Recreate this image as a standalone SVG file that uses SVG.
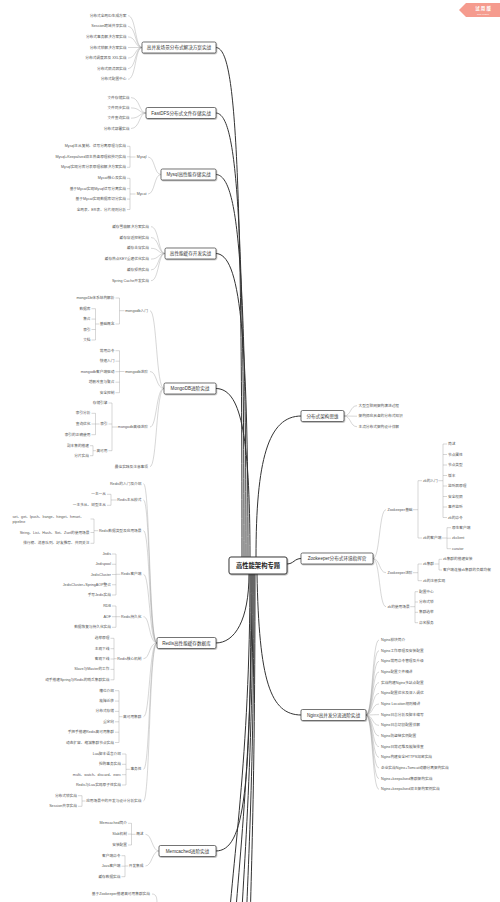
<svg xmlns="http://www.w3.org/2000/svg" width="500" height="902" viewBox="0 0 500 902">
<defs>
<filter id="sh" x="-10%" y="-30%" width="130%" height="180%"><feDropShadow dx="0.6" dy="0.8" stdDeviation="0.5" flood-color="#000" flood-opacity="0.35"/></filter>
<style>
text{font-family:"Liberation Sans","Noto Sans CJK SC",sans-serif;dominant-baseline:central}
.l{font-size:3.7px;fill:#555;text-anchor:end}
.r{font-size:3.7px;fill:#555;text-anchor:start}
.nt{font-size:4.6px;fill:#333;text-anchor:middle}
.box{fill:#fff;stroke:#3a3a3a;stroke-width:0.7;filter:url(#sh)}
.m{fill:none;stroke:#333;stroke-width:1;stroke-linecap:round}
.s{fill:none;stroke:#9a9a9a;stroke-width:0.4}
</style>
</defs>
<rect width="500" height="902" fill="#fff"/>
<g id="connectors">
<path class="m" d="M242,557C242,130 234,47.5 216,47.5M244,557C244,200 236,113 216,113M246,557C246,260 238,174.5 216,174.5M248,557C248,330 240,253.5 216,253.5M250,557C250,430 240,388.5 216,388.5M256,557C256,460 268,416 301,416M287,564C294,564 294,558.5 301,558.5M249,574C249,620 235,643 216,643M251,574C251,790 245,851 216,851M257,574C259,680 270,715 301,715M250,574C250,760 232,860 226,960M252,574C252,780 236,880 231,980M253,574C253,800 240,900 238,1000M254,574C254,820 245,900 244,1000M255,574C255,840 249,900 249,1000"/>
<path class="s" d="M142,47.5C135,47.5 136,15.7 128,15.7M142,47.5C135,47.5 136,26.3 128,26.3M142,47.5C135,47.5 136,36.9 128,36.9M142,47.5H128M142,47.5C135,47.5 136,58.1 128,58.1M142,47.5C135,47.5 136,68.7 128,68.7M142,47.5C135,47.5 136,79.3 128,79.3"/>
<path class="s" d="M146,113C139,113 140,97.6 131,97.6M146,113C139,113 140,107.9 131,107.9M146,113C139,113 140,118.2 131,118.2M146,113C139,113 140,128.5 131,128.5"/>
<path class="s" d="M161,174.5C154,174.5 155,157 148,157M161,174.5C154,174.5 155,194 148,194M135.5,157H130M130,146.3V167.3M130,146.3H127M130,156.8H127M130,167.3H127M135.5,194H130M130,178.3V209.5M130,178.3H127M130,188.7H127M130,199.1H127M130,209.5H127"/>
<path class="s" d="M165,253.5C158,253.5 159,226.7 151,226.7M165,253.5C158,253.5 159,237.5 151,237.5M165,253.5C158,253.5 159,248.3 151,248.3M165,253.5C158,253.5 159,259.1 151,259.1M165,253.5C158,253.5 159,269.9 151,269.9M165,253.5C158,253.5 159,280.7 151,280.7"/>
<path class="s" d="M164,388.5C156,388.5 157,310.7 150,310.7M164,388.5C156,388.5 157,371.5 150,371.5M164,388.5C156,388.5 157,427 150,427M164,388.5C156,388.5 157,466.7 150,466.7M124.5,310.7H119.5M119.5,298V324M119.5,298H115.5M119.5,324H115.5M99.2,324H95.5M95.5,308.7V340M95.5,308.7H91.5M95.5,319.1H91.5M95.5,329.5H91.5M95.5,340H91.5M124.5,371.5H119.5M119.5,350.7V392.7M119.5,350.7H115.5M119.5,361.2H115.5M119.5,371.7H115.5M119.5,382.2H115.5M119.5,392.7H115.5M117.3,427H112M112,403V450.7M112,403H108.5M112,424H108.5M112,450.7H108.5M99.6,424H95.5M95.5,413.3V434.7M95.5,413.3H91.5M95.5,424H91.5M95.5,434.7H91.5M95.9,450.7H93M93,445.7V455.7M93,445.7H90M93,455.7H90"/>
<path class="s" d="M157,643C149,643 150,483.7 143.5,483.7M157,643C149,643 150,500 143.5,500M157,643C149,643 150,530.7 143.5,530.7M157,643C149,643 150,574.3 143.5,574.3M157,643C149,643 150,616.7 143.5,616.7M157,643C149,643 150,658.7 143.5,658.7M157,643C149,643 150,716.7 143.5,716.7M157,643C149,643 150,769.3 143.5,769.3M157,643C149,643 150,801 143.5,801M116.7,500H111M111,494.3V505.3M111,494.3H107M111,505.3H107M98.2,530.7H94M94,519V543.3M94,519H90.5M94,532.5H90.5M94,543.3H90.5M120.4,574.3H116M116,554V595M116,554H112M116,564.25H112M116,574.5H112M116,584.75H112M116,595H112M120.4,616.7H116M116,606V627.3M116,606H112M116,616.7H112M116,627.3H112M116.7,658.7H114M114,638.3V679.8M114,638.3H110.5M114,648.7H110.5M114,659H110.5M114,669.4H110.5M114,679.8H110.5M122.5,716.7H119M119,690.7V742.5M119,690.7H115M119,701.1H115M119,711.4H115M119,721.8H115M119,732.2H115M119,742.5H115M129.9,769.3H126M126,754V785M126,754H122M126,764.3H122M126,774.7H122M126,785H122M85.5,801H82M82,795.7V806.3M82,795.7H78M82,806.3H78"/>
<path class="s" d="M159,851C152,851 152,834.3 145.5,834.3M159,851C152,851 152,866 145.5,866M135.6,834.3H131.5M131.5,823.3V845M131.5,823.3H128M131.5,834.1H128M131.5,845H128M128.2,866H125M125,855.7V876.7M125,855.7H121.5M125,866.2H121.5M125,876.7H121.5M152,894C157,894 157,899 157,905"/>
<path class="s" d="M344,416C351,416 350,405.7 357,405.7M344,416C351,416 350,416.2 357,416.2M344,416C351,416 350,426.7 357,426.7"/>
<path class="s" d="M373,558.5C380,558.5 379,509.7 386,509.7M373,558.5C380,558.5 379,572.7 386,572.7M373,558.5C380,558.5 379,606.7 386,606.7M413,509.7H418M418,480.7V538M418,480.7H422M418,538H422M438.3,480.7H443M443,444V517.5M443,444H447M443,454.5H447M443,465H447M443,475.5H447M443,486H447M443,496.5H447M443,507H447M443,517.5H447M442,538H447M447,527.7V548.7M447,527.7H451M447,538.2H451M447,548.7H451M413,572.7H418M418,564V580.7M418,564H422M418,580.7H422M434.6,564H439M439,559.3V570M439,559.3H442M439,570H442M410.2,606.7H415M415,591.7V622.7M415,591.7H418M415,602H418M415,612.3H418M415,622.7H418"/>
<path class="s" d="M366,715C373,715 372,640 379,640M366,715C373,715 372,650.67 379,650.67M366,715C373,715 372,661.33 379,661.33M366,715C373,715 372,672 379,672M366,715C373,715 372,682.67 379,682.67M366,715C373,715 372,693.33 379,693.33M366,715C373,715 372,704 379,704M366,715C373,715 372,714.67 379,714.67M366,715C373,715 372,725.33 379,725.33M366,715C373,715 372,736 379,736M366,715C373,715 372,746.67 379,746.67M366,715C373,715 372,757.33 379,757.33M366,715C373,715 372,768 379,768M366,715C373,715 372,778.67 379,778.67M366,715C373,715 372,789.33 379,789.33"/>
</g>
<g id="root">
<rect x="229" y="557" width="58" height="17" rx="2" fill="#fff" stroke="#3a3a3a" stroke-width="1" filter="url(#sh)"/>
<text x="258" y="565.5" style="font-size:6.3px;font-weight:bold;fill:#222;text-anchor:middle">高性能架构专题</text>
</g>
<g id="n-dist">
<rect class="box" x="142" y="42" width="74" height="11" rx="1.5"/>
<text class="nt" x="179" y="47.5">高并发场景分布式解决方案实战</text>
<text class="l" x="126.5" y="15.7">分布式全局ID生成方案</text>
<text class="l" x="126.5" y="26.3">Session跨域共享实战</text>
<text class="l" x="126.5" y="36.9">分布式事务解决方案实战</text>
<text class="l" x="126.5" y="47.5">分布式锁解决方案实战</text>
<text class="l" x="126.5" y="58.1">分布式调度器及 XXL实战</text>
<text class="l" x="126.5" y="68.7">分布式限流器实战</text>
<text class="l" x="126.5" y="79.3">分布式配置中心</text>
</g>
<g id="n-fastdfs">
<rect class="box" x="146" y="107.5" width="70" height="11" rx="1.5"/>
<text class="nt" x="181" y="113">FastDFS分布式文件存储实战</text>
<text class="l" x="129.5" y="97.6">文件存储实战</text>
<text class="l" x="129.5" y="107.9">文件同步实战</text>
<text class="l" x="129.5" y="118.2">文件查询实战</text>
<text class="l" x="129.5" y="128.5">分布式部署实战</text>
</g>
<g id="n-mysql">
<rect class="box" x="161" y="169" width="55" height="11" rx="1.5"/>
<text class="nt" x="188.5" y="174.5">Mysql高性能存储实战</text>
<text class="l" x="146.5" y="157">Mysql</text>
<text class="l" x="146.5" y="194">Mycat</text>
<text class="l" x="126" y="146.3">Mysql主从复制、读写分离原理与实战</text>
<text class="l" x="126" y="156.8">Mysql+Keepalived双主热备原理和技巧实战</text>
<text class="l" x="126" y="167.3">Mysql实现分库分表原理和解决方案实战</text>
<text class="l" x="126" y="178.3">Mycat核心及实战</text>
<text class="l" x="126" y="188.7">基于Mycat实现Mysql读写分离实战</text>
<text class="l" x="126" y="199.1">基于Mycat实现数据库切分实战</text>
<text class="l" x="126" y="209.5">全局表、ER表、分片规则分析</text>
</g>
<g id="n-cache">
<rect class="box" x="165" y="248" width="51" height="11" rx="1.5"/>
<text class="nt" x="190.5" y="253.5">高性能缓存开发实战</text>
<text class="l" x="149" y="226.7">缓存雪崩解决方案实战</text>
<text class="l" x="149" y="237.5">缓存穿透控制实战</text>
<text class="l" x="149" y="248.3">缓存击穿实战</text>
<text class="l" x="149" y="259.1">缓存热点KEY重建优化实战</text>
<text class="l" x="149" y="269.9">缓存预热实战</text>
<text class="l" x="149" y="280.7">Spring Cache开发实战</text>
</g>
<g id="n-mongo">
<rect class="box" x="164" y="383" width="52" height="11" rx="1.5"/>
<text class="nt" x="190" y="388.5">MongoDB进阶实战</text>
<text class="l" x="148" y="310.7">mongodb入门</text>
<text class="l" x="148" y="371.5">mongodb进阶</text>
<text class="l" x="148" y="427">mongodb高级进阶</text>
<text class="l" x="148" y="466.7">最佳实践及注意事项</text>
<text class="l" x="114.5" y="298">mongoDb体系结构解析</text>
<text class="l" x="114.5" y="324">基础概念</text>
<text class="l" x="90.5" y="308.7">数据库</text>
<text class="l" x="90.5" y="319.1">集合</text>
<text class="l" x="90.5" y="329.5">索引</text>
<text class="l" x="90.5" y="340">文档</text>
<text class="l" x="114.5" y="350.7">常用命令</text>
<text class="l" x="114.5" y="361.2">快速入门</text>
<text class="l" x="114.5" y="371.7">mongodb客户端驱动</text>
<text class="l" x="114.5" y="382.2">增删改查与聚合</text>
<text class="l" x="114.5" y="392.7">安全控制</text>
<text class="l" x="107.5" y="403">存储引擎</text>
<text class="l" x="107.5" y="424">索引</text>
<text class="l" x="107.5" y="450.7">高可用</text>
<text class="l" x="90.5" y="413.3">索引分析</text>
<text class="l" x="90.5" y="424">查询优化</text>
<text class="l" x="90.5" y="434.7">索引的正确使用</text>
<text class="l" x="89" y="445.7">副本集的搭建</text>
<text class="l" x="89" y="455.7">分片实战</text>
</g>
<g id="n-redis">
<rect class="box" x="157" y="637.5" width="59" height="11" rx="1.5"/>
<text class="nt" x="186.5" y="643">Redis高性能缓存数据库</text>
<text class="l" x="141.5" y="483.7">Redis的入门及介绍</text>
<text class="l" x="141.5" y="500">Redis主从模式</text>
<text class="l" x="141.5" y="530.7">Redis数据类型及应用场景</text>
<text class="l" x="141.5" y="574.3">Redis客户端</text>
<text class="l" x="141.5" y="616.7">Redis持久化</text>
<text class="l" x="141.5" y="658.7">Redis核心机制</text>
<text class="l" x="141.5" y="716.7">高可用集群</text>
<text class="l" x="141.5" y="769.3">事务性</text>
<text class="l" x="141.5" y="801">应用场景中的开发与设计分析实战</text>
<text class="l" x="106" y="494.3">一主一从</text>
<text class="l" x="106" y="505.3">一主多从、树型主从</text>
<text class="r" x="12.5" y="516.8">set、get、lpush、lrange、hinget、hmset、</text>
<text class="r" x="12.5" y="521.6">pipeline</text>
<text class="l" x="89.5" y="532.5">String、List、Hash、Set、Zset的使用场景</text>
<text class="l" x="89.5" y="543.3">排行榜、消息队列、好友推荐、共同关注</text>
<text class="l" x="111" y="554">Jedis</text>
<text class="l" x="111" y="564.25">Jedispool</text>
<text class="l" x="111" y="574.5">JedisCluster</text>
<text class="l" x="111" y="584.75">JedisCluster+SpringAOP整合</text>
<text class="l" x="111" y="595">手写Jedis实战</text>
<text class="l" x="111" y="606">RDB</text>
<text class="l" x="111" y="616.7">AOF</text>
<text class="l" x="111" y="627.3">数据恢复与持久化实战</text>
<text class="l" x="109.5" y="638.3">选举原理</text>
<text class="l" x="109.5" y="648.7">主观下线</text>
<text class="l" x="109.5" y="659">客观下线</text>
<text class="l" x="109.5" y="669.4">Slave与Master的工作</text>
<text class="l" x="109.5" y="679.8">动手搭建Spring与Redis的哨兵集群实战</text>
<text class="l" x="114" y="690.7">槽位介绍</text>
<text class="l" x="114" y="701.1">故障迁移</text>
<text class="l" x="114" y="711.4">分布式存储</text>
<text class="l" x="114" y="721.8">重定向</text>
<text class="l" x="114" y="732.2">手把手搭建Redis高可用集群</text>
<text class="l" x="114" y="742.5">动态扩容、缩减集群节点实战</text>
<text class="l" x="121" y="754">Lua脚本语言介绍</text>
<text class="l" x="121" y="764.3">抢购事务实战</text>
<text class="l" x="121" y="774.7">multi、watch、discard、exec</text>
<text class="l" x="121" y="785">Redis与Lua实现原子性实战</text>
<text class="l" x="77" y="795.7">分布式锁实战</text>
<text class="l" x="77" y="806.3">Session共享实战</text>
</g>
<g id="n-memcached">
<rect class="box" x="159" y="845.5" width="57" height="11" rx="1.5"/>
<text class="nt" x="187.5" y="851">Memcached进阶实战</text>
<text class="l" x="143.5" y="834.3">概述</text>
<text class="l" x="143.5" y="866">开发集成</text>
<text class="l" x="127" y="823.3">Memcached简介</text>
<text class="l" x="127" y="834.1">Slab机制</text>
<text class="l" x="127" y="845">安装配置</text>
<text class="l" x="120.5" y="855.7">客户端命令</text>
<text class="l" x="120.5" y="866.2">Java客户端</text>
<text class="l" x="120.5" y="876.7">缓存数据实战</text>
</g>
<g id="n-zkcluster">
<text class="l" x="150" y="894">基于Zookeeper搭建高可用集群实战</text>
</g>
<g id="n-arch">
<rect class="box" x="301" y="410.5" width="43" height="11" rx="1.5"/>
<text class="nt" x="322.5" y="416">分布式架构思维</text>
<text class="r" x="358.5" y="405.7">大型互联网架构演进过程</text>
<text class="r" x="358.5" y="416.2">架构师应具备的分布式知识</text>
<text class="r" x="358.5" y="426.7">主流分布式架构设计详解</text>
</g>
<g id="n-zk">
<rect class="box" x="301" y="553" width="72" height="11" rx="1.5"/>
<text class="nt" x="337" y="558.5">Zookeeper分布式环境指挥官</text>
<text class="r" x="387.5" y="509.7">Zookeeper基础</text>
<text class="r" x="387.5" y="572.7">Zookeeper进阶</text>
<text class="r" x="387.5" y="606.7">zk的使用场景</text>
<text class="r" x="423" y="480.7">zk的入门</text>
<text class="r" x="423" y="538">zk的客户端</text>
<text class="r" x="448" y="444">简述</text>
<text class="r" x="448" y="454.5">节点属性</text>
<text class="r" x="448" y="465">节点类型</text>
<text class="r" x="448" y="475.5">版本</text>
<text class="r" x="448" y="486">监听器原理</text>
<text class="r" x="448" y="496.5">安全权限</text>
<text class="r" x="448" y="507">事件监听</text>
<text class="r" x="448" y="517.5">zk的命令</text>
<text class="r" x="452" y="527.7">原生客户端</text>
<text class="r" x="452" y="538.2">zkclient</text>
<text class="r" x="452" y="548.7">curator</text>
<text class="r" x="423" y="564">zk集群</text>
<text class="r" x="423" y="580.7">zk的注册实现</text>
<text class="r" x="443" y="559.3">zk集群的搭建安装</text>
<text class="r" x="443" y="570">客户端连接zk集群的负载均衡</text>
<text class="r" x="419" y="591.7">配置中心</text>
<text class="r" x="419" y="602">分布式锁</text>
<text class="r" x="419" y="612.3">集群选举</text>
<text class="r" x="419" y="622.7">命名服务</text>
</g>
<g id="n-nginx">
<rect class="box" x="301" y="709.5" width="65" height="11" rx="1.5"/>
<text class="nt" x="333.5" y="715">Nginx高并发分流进阶实战</text>
<text class="r" x="381" y="640">Nginx模块简介</text>
<text class="r" x="381" y="650.67">Nginx工作原理及安装配置</text>
<text class="r" x="381" y="661.33">Nginx常用命令管理及升级</text>
<text class="r" x="381" y="672">Nginx配置文件精讲</text>
<text class="r" x="381" y="682.67">实战构建Nginx多站点配置</text>
<text class="r" x="381" y="693.33">Nginx配置优化及深入调优</text>
<text class="r" x="381" y="704">Nginx Location规则精讲</text>
<text class="r" x="381" y="714.67">Nginx日志分析及脚本编写</text>
<text class="r" x="381" y="725.33">Nginx日志切割配置详解</text>
<text class="r" x="381" y="736">Nginx防盗链实例配置</text>
<text class="r" x="381" y="746.67">Nginx日常运维及故障排查</text>
<text class="r" x="381" y="757.33">Nginx构建安全HTTPS加密实战</text>
<text class="r" x="381" y="768">企业实战Nginx+Tomcat动静分离架构实战</text>
<text class="r" x="381" y="778.67">Nginx+keepalived集群架构实战</text>
<text class="r" x="381" y="789.33">Nginx+keepalived双主架构案例实战</text>
</g>
<g id="badge">
<path d="M466,3H500V17H466L459,10Z" fill="#f59b8e"/>
<text x="483" y="8.3" style="font-size:4.4px;font-weight:bold;fill:#fff;text-anchor:middle">试 用 版</text>
<text x="483" y="13.6" style="font-size:2.2px;fill:#fff;text-anchor:middle">Trial Version</text>
</g>
</svg>
